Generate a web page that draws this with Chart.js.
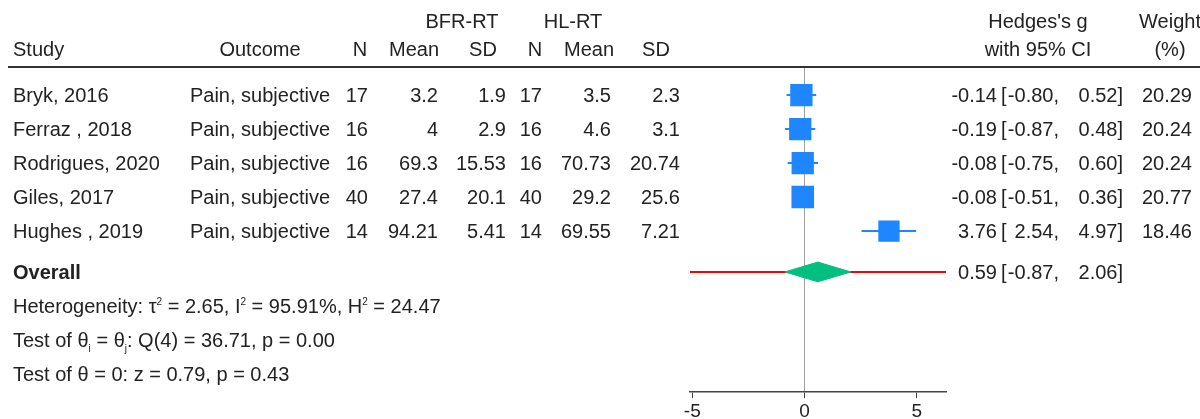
<!DOCTYPE html>
<html>
<head>
<meta charset="utf-8">
<script src="https://cdn.jsdelivr.net/npm/chart.js@4"></script>
<style>
  html, body { margin: 0; padding: 0; background: #fff; overflow: hidden; }
  #wrap { position: relative; width: 1200px; height: 419px; overflow: hidden; }
  #plot { position: absolute; left: 0; top: 0; }
  .t { position: absolute; font-family: "Liberation Sans", Arial, sans-serif; font-size: 20px; line-height: 20px; color: #222; white-space: pre; }
  .t sup, .t sub { font-size: 10px; line-height: 0; }
  #rule { position: absolute; left: 8px; top: 66px; width: 1192px; height: 2px; background: #333; }
</style>
</head>
<body>
<div id="wrap">
  <canvas id="plot" width="1200" height="440"></canvas>
  <div id="rule"></div>
</div>
<script>
(() => {
  const studies = ['Bryk, 2016', 'Ferraz , 2018', 'Rodrigues, 2020', 'Giles, 2017', 'Hughes , 2019'];
  const outcomes = ['Pain, subjective', 'Pain, subjective', 'Pain, subjective', 'Pain, subjective', 'Pain, subjective'];
  const bfrN = [17, 16, 16, 40, 14];
  const bfrMean = [3.2, 4, 69.3, 27.4, 94.21];
  const bfrSD = [1.9, 2.9, 15.53, 20.1, 5.41];
  const hlN = [17, 16, 16, 40, 14];
  const hlMean = [3.5, 4.6, 70.73, 29.2, 69.55];
  const hlSD = [2.3, 3.1, 20.74, 25.6, 7.21];
  const g = [-0.14, -0.19, -0.08, -0.08, 3.76];
  const lo = [-0.80, -0.87, -0.75, -0.51, 2.54];
  const hi = [0.52, 0.48, 0.60, 0.36, 4.97];
  const weight = [20.29, 20.24, 20.24, 20.77, 18.46];
  const overall = { g: 0.59, lo: -0.87, hi: 2.06 };
  const xTicks = [-5, 0, 5];
  const xMin = -5.1, xMax = 6.3;

  const blue = '#1e86ff', green = '#00bf7f', red = '#ff0000';
  const rowY = studies.map((_, i) => i + 1);
  const overallY = studies.length + 1.2;
  const dh = 0.29;

  // CI whiskers, one little line per study
  const whiskers = studies.map((s, i) => ({
    type: 'line', label: s, order: 2,
    data: [{ x: lo[i], y: rowY[i] }, { x: hi[i], y: rowY[i] }],
    borderColor: blue, borderWidth: 2, pointRadius: 0
  }));

  const chart = new Chart(document.getElementById('plot'), {
    type: 'scatter',
    data: {
      datasets: [
        { label: 'Hedges g', order: 0, data: g.map((v, i) => ({ x: v, y: rowY[i] })),
          pointStyle: 'rect', pointRadius: weight.map(w => 3.5 * Math.sqrt(w)),
          backgroundColor: blue, borderWidth: 0, pointHoverRadius: weight.map(w => 3.5 * Math.sqrt(w)) },
        ...whiskers,
        { type: 'line', label: 'Overall', order: 1,
          data: [{ x: overall.lo, y: overallY }, { x: overall.g, y: overallY - dh }, { x: overall.hi, y: overallY },
                 { x: overall.g, y: overallY + dh }, { x: overall.lo, y: overallY }],
          borderColor: green, borderWidth: 1, backgroundColor: green, fill: 'shape', pointRadius: 0, tension: 0 },
        { type: 'line', label: 'line', order: 3,
          data: [{ x: xMin, y: overallY }, { x: xMax, y: overallY }],
          borderColor: red, borderWidth: 2, pointRadius: 0 }
      ]
    },
    options: {
      responsive: false, animation: false, devicePixelRatio: 1,
      layout: { padding: { left: 690, right: 254, top: 67, bottom: 15 } },
      plugins: { legend: { display: false }, tooltip: { enabled: false } },
      scales: {
        x: {
          type: 'linear', min: xMin, max: xMax,
          afterBuildTicks: sc => { sc.ticks = xTicks.map(v => ({ value: v })); },
          grid: { color: c => (c.tick && c.tick.value === 0 ? '#a0a0a0' : 'transparent'), tickColor: '#444', tickLength: 6, lineWidth: 1 },
          border: { display: true, color: '#444', width: 1.5 },
          ticks: { color: '#222', padding: 2, font: { family: 'Liberation Sans', size: 19 } }
        },
        y: { type: 'linear', display: false, reverse: true, min: 0.176, max: 9.735 }
      }
    }
  });

  const wrap = document.getElementById('wrap');
  const ys = chart.scales.y;
  function txt(html, x, y, align, bold) {
    const d = document.createElement('div');
    d.className = 't';
    d.innerHTML = html;
    d.style.top = (y - 10) + 'px';
    if (align === 'right') d.style.right = (1200 - x) + 'px';
    else if (align === 'center') { d.style.left = x + 'px'; d.style.transform = 'translateX(-50%)'; }
    else d.style.left = x + 'px';
    if (bold) d.style.fontWeight = 'bold';
    wrap.appendChild(d);
  }

  // headers
  txt('BFR-RT', 462, 21, 'center');
  txt('HL-RT', 573, 21, 'center');
  txt("Hedges's g", 1038, 21, 'center');
  txt('Weight', 1170, 21, 'center');
  txt('Study', 13, 49);
  txt('Outcome', 260, 49, 'center');
  txt('N', 360, 49, 'center');
  txt('Mean', 414, 49, 'center');
  txt('SD', 483, 49, 'center');
  txt('N', 535, 49, 'center');
  txt('Mean', 589, 49, 'center');
  txt('SD', 656, 49, 'center');
  txt('with 95% CI', 1038, 49, 'center');
  txt('(%)', 1170, 49, 'center');

  const f2 = v => v.toFixed(2);
  studies.forEach((s, i) => {
    const y = ys.getPixelForValue(rowY[i]);
    txt(s, 13, y);
    txt(outcomes[i], 260, y, 'center');
    txt(String(bfrN[i]), 368, y, 'right');
    txt(String(bfrMean[i]), 438, y, 'right');
    txt(String(bfrSD[i]), 506, y, 'right');
    txt(String(hlN[i]), 542, y, 'right');
    txt(String(hlMean[i]), 611, y, 'right');
    txt(String(hlSD[i]), 680, y, 'right');
    txt(f2(g[i]), 997, y, 'right');
    txt('[', 1001, y);
    txt(f2(lo[i]) + ',', 1059, y, 'right');
    txt(f2(hi[i]) + ']', 1123, y, 'right');
    txt(f2(weight[i]), 1192, y, 'right');
  });

  const yo = ys.getPixelForValue(overallY);
  txt('Overall', 13, yo, 'left', true);
  txt(f2(overall.g), 997, yo, 'right');
  txt('[', 1001, yo);
  txt(f2(overall.lo) + ',', 1059, yo, 'right');
  txt(f2(overall.hi) + ']', 1123, yo, 'right');

  txt('Heterogeneity: &tau;<sup>2</sup> = 2.65, I<sup>2</sup> = 95.91%, H<sup>2</sup> = 24.47', 13, ys.getPixelForValue(overallY + 1));
  txt('Test of &theta;<sub>i</sub> = &theta;<sub>j</sub>: Q(4) = 36.71, p = 0.00', 13, ys.getPixelForValue(overallY + 2));
  txt('Test of &theta; = 0: z = 0.79, p = 0.43', 13, ys.getPixelForValue(overallY + 3));
})();
</script>
</body>
</html>
